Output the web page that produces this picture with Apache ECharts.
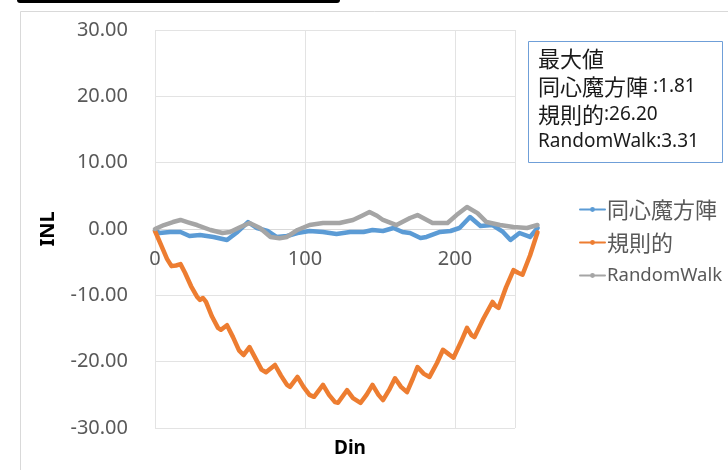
<!DOCTYPE html>
<html>
<head>
<meta charset="utf-8">
<script src="https://cdn.jsdelivr.net/npm/echarts@6/dist/echarts.min.js"></script>
<style>
html,body{margin:0;padding:0;background:#fff;}
#chart{width:728px;height:470px;}
</style>
</head>
<body>
<div id="chart"></div>
<script>
const seriesNames = ['同心魔方陣', '規則的', 'RandomWalk'];
const seriesColors = ['#5B9BD5', '#ED7D31', '#A5A5A5'];
const xTickValues = [0, 100, 200];
const yTickValues = [-30, -20, -10, 0, 10, 20, 30];
const boxTitle = '最大値';
const boxNames = ['同心魔方陣', '規則的', 'RandomWalk'];
const boxSeps = [' :', ':', ':'];
const boxValues = ['1.81', '26.20', '3.31'];

const blueX = [0, 3, 10, 17, 23, 30, 39, 48, 55, 62, 68, 75, 81, 88, 95, 103, 112, 121, 130, 139, 145, 152, 159, 165, 170, 177, 181, 190, 197, 203, 210, 217, 225, 232, 237, 243, 250, 255];
const blueY = [-0.2, -0.6, -0.45, -0.45, -1.05, -0.9, -1.2, -1.66, -0.45, 1.05, 0.15, -0.3, -1.2, -1.05, -0.6, -0.3, -0.45, -0.75, -0.45, -0.45, -0.15, -0.3, 0.15, -0.45, -0.6, -1.36, -1.2, -0.45, -0.3, 0.15, 1.81, 0.45, 0.6, -0.45, -1.66, -0.6, -1.2, 0.15];

const orangeX = [0, 4, 8, 11, 14, 17, 20, 24, 28, 30, 32, 34, 38, 42, 44, 48, 52, 56, 59, 63, 67, 71, 74, 80, 84, 88, 90, 95, 99, 103, 106, 112, 116, 120, 122, 128, 132, 137, 141, 145, 149, 152, 156, 160, 164, 168, 172, 175, 179, 183, 188, 192, 196, 199, 204, 208, 211, 213, 219, 225, 227, 229, 234, 239, 242, 245, 250, 255];
const orangeY = [-0.3, -2.4, -4.5, -5.6, -5.5, -5.3, -6.6, -8.6, -10.2, -10.7, -10.4, -11.0, -13.2, -14.9, -15.2, -14.5, -16.3, -18.3, -19.0, -17.8, -19.5, -21.2, -21.6, -20.5, -22.1, -23.5, -23.8, -22.3, -23.8, -25.0, -25.3, -23.5, -25.0, -26.1, -26.2, -24.3, -25.5, -26.2, -25.0, -23.5, -25.0, -25.8, -24.3, -22.5, -23.8, -24.6, -22.5, -20.8, -21.8, -22.3, -20.2, -18.2, -18.9, -19.4, -17.0, -14.9, -16.0, -16.3, -13.5, -11.0, -11.6, -11.9, -8.8, -6.2, -6.6, -6.9, -4.0, -0.5];

const grayX = [0, 1, 6, 12, 17, 22, 28, 37, 45, 50, 57, 63, 70, 77, 83, 88, 95, 103, 112, 123, 132, 138, 143, 148, 152, 161, 170, 175, 180, 185, 195, 201, 208, 215, 221, 230, 239, 248, 255];
const grayY = [0.0, 0.15, 0.6, 1.05, 1.36, 1.0, 0.6, -0.15, -0.6, -0.45, 0.3, 0.9, 0.15, -1.2, -1.4, -1.2, -0.15, 0.6, 0.9, 0.9, 1.36, 2.0, 2.56, 2.0, 1.36, 0.6, 1.66, 2.1, 1.5, 0.9, 0.9, 2.1, 3.31, 2.4, 1.05, 0.6, 0.3, 0.15, 0.6];

const toPairs = (xs, ys) => xs.map((x, i) => [x, ys[i]]);
const seriesData = [toPairs(blueX, blueY), toPairs(orangeX, orangeY), toPairs(grayX, grayY)];

const FONT = '"Noto Sans", "Noto Sans CJK JP", sans-serif';
const CJK = '"Noto Sans CJK JP", sans-serif';
const isCJK = s => /[\u3000-\u9fff]/.test(s);
const chart = echarts.init(document.getElementById('chart'), null, {renderer: 'canvas'});

const PX_PER_UNIT = 1.5;
const GRID_TOP = 30, GRID_H = 398;
const Y_MIN = -30, Y_MAX = 30;
// distance from bottom of plot to the y=0 line, so the x axis sits on zero
const zeroOffset = -GRID_H * (0 - Y_MIN) / (Y_MAX - Y_MIN);

const option = {
  animation: false,
  backgroundColor: '#ffffff',
  textStyle: {fontFamily: FONT},
  grid: [
    {left: 155, top: GRID_TOP, width: 240 * PX_PER_UNIT, height: GRID_H, containLabel: false, outerBoundsMode: 'none'},
    {left: 155, top: GRID_TOP, width: 260 * PX_PER_UNIT, height: GRID_H, containLabel: false, outerBoundsMode: 'none'}
  ],
  xAxis: [{
    gridIndex: 0,
    type: 'value',
    position: 'bottom',
    offset: zeroOffset,
    min: 0, max: 240, interval: 100,
    name: 'Din', nameLocation: 'middle', nameGap: 210,
    nameTextStyle: {fontFamily: FONT, fontSize: 19, fontWeight: 'bold', color: '#000', padding: [0, 0, 0, 30]},
    axisLine: {show: true, onZero: false, lineStyle: {color: '#d9d9d9', width: 1}},
    axisTick: {show: false},
    axisLabel: {
      margin: 20, fontSize: 20, color: '#595959', fontFamily: FONT,
      showMaxLabel: false,
      formatter: v => (xTickValues.indexOf(v) >= 0 ? String(v) : '')
    },
    splitLine: {show: true, lineStyle: {color: '#e3e3e3', width: 1}}
  }, {
    gridIndex: 1,
    type: 'value',
    min: 0, max: 260,
    show: false
  }],
  yAxis: [{
    gridIndex: 0,
    type: 'value',
    min: Y_MIN, max: Y_MAX, interval: 10,
    name: 'INL', nameLocation: 'middle', nameGap: 97, nameRotate: 90,
    nameTextStyle: {fontFamily: FONT, fontSize: 20, fontWeight: 'bold', color: '#000'},
    axisLine: {show: false, onZero: false},
    axisTick: {show: false},
    axisLabel: {
      margin: 27, fontSize: 20, color: '#595959', fontFamily: FONT,
      formatter: v => (yTickValues.indexOf(v) >= 0 ? v.toFixed(2) : '')
    },
    splitLine: {show: true, lineStyle: {color: '#e3e3e3', width: 1}}
  }, {
    gridIndex: 1,
    type: 'value',
    min: Y_MIN, max: Y_MAX,
    show: false
  }],
  legend: {
    orient: 'vertical',
    left: 574, top: 193,
    itemWidth: 25, itemHeight: 6, itemGap: 10,
    data: seriesNames,
    formatter: n => (isCJK(n) ? '{c|' + n + '}' : n),
    textStyle: {
      fontFamily: FONT, fontSize: 18.5, color: '#595959', lineHeight: 23, padding: [0, 0, 0, -3],
      rich: {c: {fontFamily: CJK, fontSize: 22, color: '#595959', lineHeight: 23}}
    }
  },
  series: seriesNames.map((name, i) => ({
    name: name,
    type: 'line',
    xAxisIndex: 1,
    yAxisIndex: 1,
    data: seriesData[i],
    color: seriesColors[i],
    showSymbol: false,
    symbol: 'circle',
    symbolSize: 5,
    clip: false,
    z: i === 2 ? 4 : (i === 1 ? 3 : 2),
    lineStyle: {width: 4.5, color: seriesColors[i], join: 'round', cap: 'round'},
    emphasis: {disabled: true}
  })),
  graphic: [
    {type: 'rect', left: 17, top: -6, shape: {width: 323, height: 9, r: 3}, style: {fill: '#000'}, silent: true},
    {type: 'rect', left: 18, top: 9, shape: {width: 740, height: 500}, style: {fill: 'none', stroke: '#d9d9d9', lineWidth: 1}, silent: true, z: -1},
    {type: 'rect', left: 528, top: 41, shape: {width: 194, height: 121}, style: {fill: '#fff', stroke: '#6f9fd8', lineWidth: 1}, z: 10},
    {type: 'text', left: 538, top: 48, z: 11,
      style: {text: '{c|' + boxTitle + '}', fontFamily: FONT, fontSize: 19, fill: '#1a1a1a',
        rich: {c: {fontFamily: CJK, fontSize: 22, fill: '#1a1a1a', lineHeight: 26}}}}
  ].concat(boxNames.map((n, i) => ({
    type: 'text', left: 538, top: 76 + i * 28, z: 11,
    style: {
      text: (isCJK(n) ? '{c|' + n + '}' : '{l|' + n + '}') + '{l|' + boxSeps[i] + boxValues[i] + '}',
      fontFamily: FONT, fontSize: 19, fill: '#1a1a1a',
      rich: {
        c: {fontFamily: CJK, fontSize: 22, fill: '#1a1a1a', lineHeight: 26},
        l: {fontFamily: FONT, fontSize: 19, fill: '#1a1a1a', lineHeight: 26}
      }
    }
  })))
};
chart.setOption(option);
</script>
</body>
</html>
